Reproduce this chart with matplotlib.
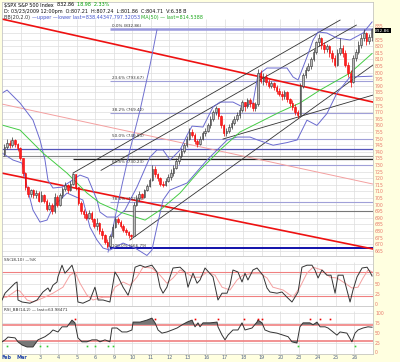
import matplotlib
matplotlib.use('Agg')
import matplotlib.pyplot as plt
from matplotlib.patches import Rectangle
from matplotlib.transforms import blended_transform_factory
import numpy as np

# ---- data (hourly bars, 7 per session, Feb 27 .. Mar 26 2009) ----
day_labels = ['Feb', 'Mar', '3', '4', '5', '6', '9', '10', '11', '12', '13',
              '16', '17', '18', '19', '20', '23', '24', '25', '26']
bars_per_day = 7
first_open = 738

closes = [744, 747, 745, 749, 746, 743, 735,
          724, 713, 708, 711, 707, 709, 703,
          707, 703, 697, 700, 695, 706, 700,
          707, 712, 715, 711, 716, 723, 713,
          701, 695, 693, 690, 694, 689, 684,
          686, 680, 677, 672, 669, 676, 683,
          689, 687, 684, 681, 679, 677, 676,
          700, 705, 708, 706, 711, 714, 719,
          727, 723, 720, 716, 715, 718, 721,
          724, 728, 733, 737, 741, 745, 750,
          755, 753, 748, 746, 750, 754, 756,
          760, 765, 770, 773, 767, 760, 754,
          756, 759, 762, 765, 768, 772, 778,
          775, 779, 777, 773, 776, 800, 794,
          797, 793, 790, 792, 789, 786, 784,
          782, 785, 780, 777, 774, 770, 768,
          790, 798, 802, 805, 810, 816, 823,
          826, 821, 818, 820, 815, 811, 806,
          815, 819, 815, 806, 800, 793, 811,
          816, 821, 826, 830, 824, 827, 832.86]
highs = [746, 750, 749, 751, 750, 747, 744,
         735, 725, 714, 712, 712, 711, 710,
         710, 708, 704, 702, 701, 709, 707,
         709, 713, 717, 716, 718, 724, 723,
         713, 703, 697, 695, 696, 695, 690,
         690, 687, 682, 678, 674, 678, 685,
         691, 691, 688, 685, 682, 680, 678,
         702, 707, 710, 709, 712, 716, 720,
         730, 729, 724, 721, 718, 720, 723,
         727, 730, 735, 739, 743, 747, 752,
         758, 757, 754, 750, 752, 756, 758,
         762, 767, 772, 775, 773, 768, 761,
         758, 761, 764, 767, 770, 774, 779,
         778, 781, 781, 778, 778, 803, 802,
         800, 799, 795, 794, 793, 791, 788,
         786, 787, 786, 781, 779, 776, 772,
         792, 800, 804, 807, 812, 818, 824,
         829, 827, 823, 822, 821, 817, 813,
         818, 826, 821, 817, 808, 802, 813,
         818, 824, 829, 833, 831, 829, 834]
lows = [737, 742, 743, 744, 744, 741, 734,
        722, 711, 706, 706, 705, 705, 702,
        702, 701, 695, 696, 693, 694, 698,
        699, 705, 710, 709, 710, 715, 711,
        700, 693, 690, 688, 689, 687, 682,
        681, 678, 674, 670, 667, 668, 675,
        682, 685, 682, 679, 677, 675, 674,
        677, 699, 703, 704, 705, 710, 713,
        718, 721, 718, 714, 713, 714, 717,
        719, 722, 727, 731, 735, 739, 744,
        749, 751, 746, 744, 745, 749, 752,
        755, 758, 763, 768, 765, 758, 752,
        752, 754, 757, 760, 763, 766, 770,
        771, 773, 774, 771, 771, 775, 792,
        791, 791, 788, 788, 787, 784, 782,
        779, 780, 778, 775, 772, 768, 766,
        768, 788, 796, 801, 803, 809, 814,
        820, 818, 815, 816, 812, 808, 804,
        805, 813, 812, 804, 797, 789, 792,
        809, 814, 819, 824, 821, 822, 824]

# Bollinger bands (20,2) and MA(50) (x in sessions)
bb_up_x = [-0.05, 0.22, 0.92, 1.62, 2.0, 2.27, 2.43, 2.7, 3.19, 4.16, 4.59, 5.08, 5.24, 5.62,
           6.16, 6.59, 7.24, 7.95, 8.32, 8.65, 9.03, 9.57, 9.95, 10.22, 10.81, 11.35, 11.73,
           12.43, 12.97, 13.51, 13.78, 14.27, 15.35, 15.68, 15.95, 16.43, 16.76, 17.03, 17.51,
           18.05, 18.76, 19.46, 19.95]
bb_up = [784.5, 786.8, 777.0, 764.1, 749.0, 733.8, 718.6, 712.6, 713.3, 722.4, 720.2, 703.5,
         694.4, 690.6, 690.6, 695.9, 713.3, 736.1, 741.4, 741.4, 733.8, 741.4, 752.7, 759.5,
         758.8, 773.9, 777.7, 777.7, 773.9, 777.0, 798.2, 803.5, 803.5, 796.7, 794.4, 811.8,
         824.7, 830.8, 830.0, 826.2, 824.7, 830.0, 838.4]
bb_lo_x = [-0.05, 0.54, 1.03, 1.3, 1.62, 2.0, 2.38, 2.7, 3.46, 4.32, 4.7, 5.08, 5.41, 5.78,
           6.49, 7.14, 7.78, 8.05, 8.32, 8.65, 9.03, 9.95, 11.03, 12.11, 12.65, 13.35, 13.78,
           14.6, 15.35, 15.9, 16.43, 16.97, 17.51, 18.05, 18.76, 19.95]
bb_lo = [739.1, 733.8, 731.5, 713.3, 695.9, 686.8, 688.3, 698.2, 708.8, 703.5, 683.0, 673.2,
         667.1, 665.6, 670.9, 667.1, 661.5, 665.6, 683.0, 703.5, 711.1, 716.4, 733.8, 748.9,
         751.2, 751.2, 748.9, 745.0, 747.0, 749.0, 764.0, 760.0, 769.0, 784.5, 796.7, 797.3]
ma_x = [-0.05, 0.92, 2.16, 3.46, 4.54, 5.24, 6.32, 7.68, 8.49, 9.57, 10.65, 11.73, 12.81,
        13.89, 14.97, 16.05, 17.14, 18.76, 19.95]
ma50 = [760.3, 756.5, 739.1, 723.9, 708.8, 701.2, 694.4, 688.3, 695.9, 708.8, 726.2, 741.4,
        755.0, 762.6, 770.2, 777.0, 786.8, 799.7, 814.5]

# steep blue arc from the March low
arc_x = [5.68, 6.05, 6.43, 6.86, 7.41, 7.95, 8.32]
arc_p = [664.1, 689.8, 714.8, 741.4, 771.7, 805.8, 832.3]

# Fibonacci retracement 832.86 -> 666.79
fib_start = 5.78
fib_pct = ['0.0%', '23.6%', '38.2%', '50.0%', '61.8%', '78.6%', '100.0%']
fib_price = [832.86, 793.67, 769.42, 749.83, 730.23, 702.33, 666.79]

# trend lines: (x0, p0, x1, p1)
red_lines = [(-0.06, 840.6, 20, 777.7), (-0.06, 723.9, 20, 666.4)]
pink_lines = [(-0.06, 776.2, 20, 715.6)]
black_lines = [(3.78, 723.9, 18.22, 839.8), (5.3, 726.0, 19.1, 836.0),
               (6.86, 673.2, 20, 805.8), (11.89, 749.7, 20, 783.0)]
h_lines = [(742.1, -0.06, '#5555BB', 0.9), (736.8, -0.06, '#888888', 0.8),
           (734.5, 3.78, '#222222', 0.9), (695.2, 6.5, '#777777', 0.8)]

# slow stochastic (18,10)
k_x = [-0.05, 0.11, 0.65, 0.76, 0.81, 1.03, 1.46, 1.84, 2.16, 2.43, 2.54, 2.7, 2.92, 2.97, 3.19,
       3.35, 3.51, 3.73, 3.89, 4.05, 4.32, 4.7, 4.97, 5.14, 5.41, 5.78, 6.05, 6.22, 6.49, 6.76,
       6.97, 7.14, 7.41, 7.68, 8.05, 8.32, 8.49, 8.65, 8.86, 9.03, 9.19, 9.57, 9.84, 10.0, 10.27,
       10.49, 10.65, 10.92, 11.35, 11.62, 11.84, 12.11, 12.27, 12.43, 12.7, 12.92, 13.08, 13.24,
       13.51, 13.73, 14.05, 14.27, 14.43, 14.81, 15.08, 15.35, 15.62, 15.78, 15.95, 16.16, 16.43,
       16.7, 16.86, 17.03, 17.24, 17.51, 17.73, 17.95, 18.11, 18.38, 18.59, 18.76, 18.92, 19.14,
       19.41, 19.68, 19.84, 19.95]
k_val = [10, 27, 52, 55, 10, 5, 2, 10, 30, 40, 31, 47, 55, 68, 97, 77, 85, 97, 72, 5, 2, 10, 42,
         10, 10, 5, 80, 68, 42, 22, 52, 92, 97, 92, 97, 80, 42, 27, 42, 68, 90, 92, 80, 42, 77, 52,
         60, 90, 68, 10, 27, 27, 47, 85, 80, 55, 77, 60, 85, 90, 72, 40, 30, 27, 30, 17, 5, 17, 30,
         92, 97, 97, 85, 65, 85, 72, 72, 27, 72, 72, 35, 5, 35, 68, 90, 92, 80, 70]
d_x = [-0.05, 0.2, 0.76, 0.92, 1.3, 1.62, 2.16, 2.7, 3.24, 3.62, 3.89, 4.16, 4.54, 4.86, 5.41,
       5.78, 6.05, 6.49, 6.86, 7.24, 7.57, 8.05, 8.49, 8.86, 9.19, 9.57, 9.95, 10.27, 10.65, 11.03,
       11.46, 11.84, 12.27, 12.65, 12.97, 13.51, 13.89, 14.27, 14.59, 15.14, 15.68, 16.05, 16.43,
       16.76, 17.24, 17.68, 18.05, 18.49, 18.86, 19.19, 19.46, 19.73, 19.95]
d_val = [17, 17, 35, 32, 10, 5, 15, 27, 42, 72, 80, 52, 22, 10, 17, 17, 42, 55, 47, 67, 92, 90,
         72, 52, 65, 85, 77, 67, 67, 80, 72, 42, 35, 60, 72, 77, 77, 65, 42, 35, 17, 42, 77, 92,
         85, 67, 65, 52, 40, 42, 65, 85, 80.8]

# RSI(14)
rsi_x = [-0.05, 0.11, 0.27, 0.65, 0.81, 1.03, 1.3, 1.62, 1.89, 2.27, 2.54, 2.7, 2.97, 3.19, 3.46,
         3.73, 3.89, 4.05, 4.27, 4.54, 4.81, 5.08, 5.24, 5.51, 5.78, 5.89, 6.16, 6.43, 6.7, 6.97,
         7.03, 7.41, 7.78, 8.05, 8.22, 8.38, 8.59, 8.86, 9.14, 9.41, 9.68, 9.95, 10.22, 10.38,
         10.54, 10.65, 10.81, 11.19, 11.57, 11.62, 11.84, 12.0, 12.16, 12.43, 12.7, 12.92, 13.08,
         13.46, 13.73, 13.78, 14.0, 14.16, 14.43, 14.81, 15.14, 15.41, 15.62, 15.89, 16.05, 16.22,
         16.59, 16.76, 16.97, 17.14, 17.41, 17.57, 17.84, 18.05, 18.22, 18.59, 18.86, 19.03,
         19.19, 19.46, 19.73, 19.95]
rsi_val = [27, 32, 39, 37, 27, 19, 14, 14, 32, 40, 49, 57, 52, 65, 65, 82, 75, 37, 27, 27, 32,
           32, 27, 32, 27, 62, 62, 52, 52, 57, 77, 77, 82, 87, 75, 57, 49, 52, 57, 62, 70, 77, 82,
           65, 75, 65, 75, 75, 77, 65, 44, 32, 44, 57, 57, 75, 57, 62, 77, 82, 75, 57, 52, 49, 44,
           40, 27, 24, 65, 75, 75, 70, 77, 65, 65, 62, 52, 44, 52, 49, 27, 49, 57, 62, 65, 64]
sell_x = [3.89, 8.22, 10.38, 11.62, 13.03, 13.78, 14.0, 16.59, 17.14, 17.68]
buy_x = [0.22, 2.0, 2.38, 4.54, 4.97, 5.68, 5.95, 15.95, 19.03]

# ---- figure ----
W, H = 400, 362
bg = '#FFFFE0'
lab_col = '#E8796B'
grid_col = '#DDDDDD'
fig = plt.figure(figsize=(W / 100, H / 100), dpi=100, facecolor=bg)
plt.rcParams['font.family'] = ['DejaVu Sans']
fs = 3.5
fs_small = 3.0
fs_tick = 3.3


def panel(top, bottom):
    return fig.add_axes([2 / W, 1 - bottom / H, 371 / W, (bottom - top) / H])


ax = panel(2, 256)
ax_ss = panel(256, 306)
ax_rsi = panel(306, 354)
x0, x1 = -0.054, 20
n_days = len(day_labels)

for a in (ax, ax_ss, ax_rsi):
    a.set_xlim(x0, x1)
    a.set_facecolor('white')
    a.yaxis.tick_right()
    a.tick_params(axis='y', length=0, labelsize=fs_tick, labelcolor=lab_col, pad=1.5)
    a.tick_params(axis='x', length=0, labelbottom=False)
    for s in a.spines.values():
        s.set_color('#BBBBBB')
        s.set_linewidth(0.5)

# main price panel
ax.set_ylim(661.1, 853.5)
ticks = np.arange(665, 840, 5)
ax.set_yticks(ticks)
# the last-price box hides the 830 label
ax.set_yticklabels(['' if t == 830 else str(t) for t in ticks])
ax.hlines(ticks, x0, x1, color=grid_col, lw=0.5, zorder=0)
ax.vlines(np.arange(1, n_days), 661.1, 841, color=grid_col, lw=0.5, zorder=0)

for pct, p in zip(fib_pct, fib_price):
    if pct == '0.0%':
        ax.hlines(p, fib_start, x1, color='#9999DD', lw=1.8, zorder=1)
    elif pct == '100.0%':
        ax.hlines(p, fib_start, x1, color='#1010AA', lw=1.4, zorder=1)
    else:
        ax.hlines(p, fib_start, x1, color='#A0A0D8', lw=0.8, zorder=1)
    ax.text(fib_start + 0.1, p + 0.6, f'{pct} ({p:.2f})', fontsize=3.0, color='#333333',
            va='bottom', ha='left', zorder=3)

for p, xs0, c, lw in h_lines:
    ax.hlines(p, xs0, x1, color=c, lw=lw, zorder=1)
for a0, p0, a1, p1 in red_lines:
    ax.plot([a0, a1], [p0, p1], color='#EE1111', lw=1.2, zorder=2)
for a0, p0, a1, p1 in pink_lines:
    ax.plot([a0, a1], [p0, p1], color='#F4A0A0', lw=0.7, zorder=2)
for a0, p0, a1, p1 in black_lines:
    ax.plot([a0, a1], [p0, p1], color='#333333', lw=0.6, zorder=2)

ax.plot(bb_up_x, bb_up, color='#6A6ACF', lw=0.7, zorder=2)
ax.plot(bb_lo_x, bb_lo, color='#6A6ACF', lw=0.7, zorder=2)
ax.plot(ma_x, ma50, color='#44CC44', lw=0.7, zorder=2)
ax.plot(arc_x, arc_p, color='#7070D0', lw=0.7, zorder=2)

opens = [first_open] + closes[:-1]
w = 0.6 / bars_per_day
for i, (o, h, l, c) in enumerate(zip(opens, highs, lows, closes)):
    xc = (i + 0.5) / bars_per_day
    up = c >= o
    col = '#333333' if up else '#EE0000'
    ax.vlines(xc, l, h, color=col, lw=0.5, zorder=4)
    ax.add_patch(Rectangle((xc - w / 2, min(o, c)), w, max(abs(c - o), 0.4),
                           facecolor='#BBBBBB' if up else '#FF2020', edgecolor=col,
                           lw=0.4, zorder=5))

tr = blended_transform_factory(ax.transAxes, ax.transData)
ax.text(1.006, closes[-1] - 1.2, f'{closes[-1]:.2f}', transform=tr, fontsize=3.2, color='white',
        va='center', ha='left', clip_on=False,
        bbox=dict(boxstyle='square,pad=0.1', fc='black', ec='none'))


# header text, drawn piece by piece
def header(ypx, parts, size=fs, weight='normal'):
    t = fig.text(4 / W, 1 - ypx / H, parts[0][0], color=parts[0][1], fontsize=size,
                 va='center', ha='left', fontweight=weight)
    for s, c in parts[1:]:
        t = ax.annotate(s, xy=(1, 0), xycoords=t, va='bottom', ha='left', color=c,
                        fontsize=size, fontweight=weight)


header(5, [('$SPX S&P 500 Index  ', 'black'), ('832.86  ', 'black'),
           ('18.98  2.33%', '#00A000')])
header(11.5, [('D: 03/23/2009 12:00pm  O:807.21  H:807.24  L:801.86  C:804.71  V:6.38 B', '#111111')])
header(17.5, [('BB(20,2.0) ', '#333333'), ('\u2014upper \u2014lower last=838.44347,797.32053 ', '#4455CC'),
              ('MA(50) \u2014 last=814.5388', '#22AA22')])

# stochastic panel
ax_ss.set_ylim(-5, 120)
ax_ss.set_yticks([0, 25, 50, 75])
ax_ss.hlines([25, 50, 75, 100], x0, x1, color=grid_col, lw=0.5, zorder=0)
ax_ss.vlines(np.arange(1, n_days), -5, 105, color=grid_col, lw=0.5, zorder=0)
ax_ss.hlines([20, 80], x0, x1, color='#F08080', lw=0.8, zorder=1)
ax_ss.plot(d_x, d_val, color='#F4A0A0', lw=0.7, zorder=2)
ax_ss.plot(k_x, k_val, color='#333333', lw=0.7, zorder=3)
header(260, [('SS(18,10) \u2014%K ', '#333333'), ('\u2014%D ', '#E05050'),
             ('last=70.0883, ', '#333333'), ('80.83046', '#E05050')], size=fs_small)

# RSI panel
ax_rsi.set_ylim(-3.8, 117.7)
ax_rsi.set_yticks([0, 25, 50, 75, 100])
ax_rsi.hlines([25, 50, 75, 100], x0, x1, color=grid_col, lw=0.5, zorder=0)
ax_rsi.vlines(np.arange(1, n_days), -3.8, 105, color=grid_col, lw=0.5, zorder=0)
ax_rsi.hlines([70, 30], x0, x1, color='#F08080', lw=1.2, zorder=1)
rx = np.array(rsi_x)
rv = np.array(rsi_val)
ax_rsi.fill_between(rx, rv, 70, where=rv > 70, interpolate=True, color='#777777', lw=0, zorder=2)
ax_rsi.fill_between(rx, rv, 30, where=rv < 30, interpolate=True, color='#777777', lw=0, zorder=2)
ax_rsi.plot(rx, rv, color='#333333', lw=0.7, zorder=3)
ax_rsi.plot(sell_x, [84] * len(sell_x), 's', color='#EE0000', ms=1.2, mew=0, zorder=4)
ax_rsi.plot(buy_x, [16] * len(buy_x), 's', color='#33CC33', ms=1.2, mew=0, zorder=4)
header(309, [('RSI_BB(14,2) \u2014 last=63.98471', '#333333')], size=fs_small)

# date labels
for i, lab in enumerate(day_labels):
    xd = i + (0.2 if i == 0 else 0)
    xf = (3 + 18.5 * xd) / W
    fig.text(xf, 1 - 357.5 / H, lab, fontsize=fs, ha='center', va='center',
             color='#2244AA' if lab in ('Feb', 'Mar') else '#556688',
             fontweight='bold' if lab in ('Feb', 'Mar') else 'normal')

fig.savefig('out.png', dpi=100, facecolor=bg)
